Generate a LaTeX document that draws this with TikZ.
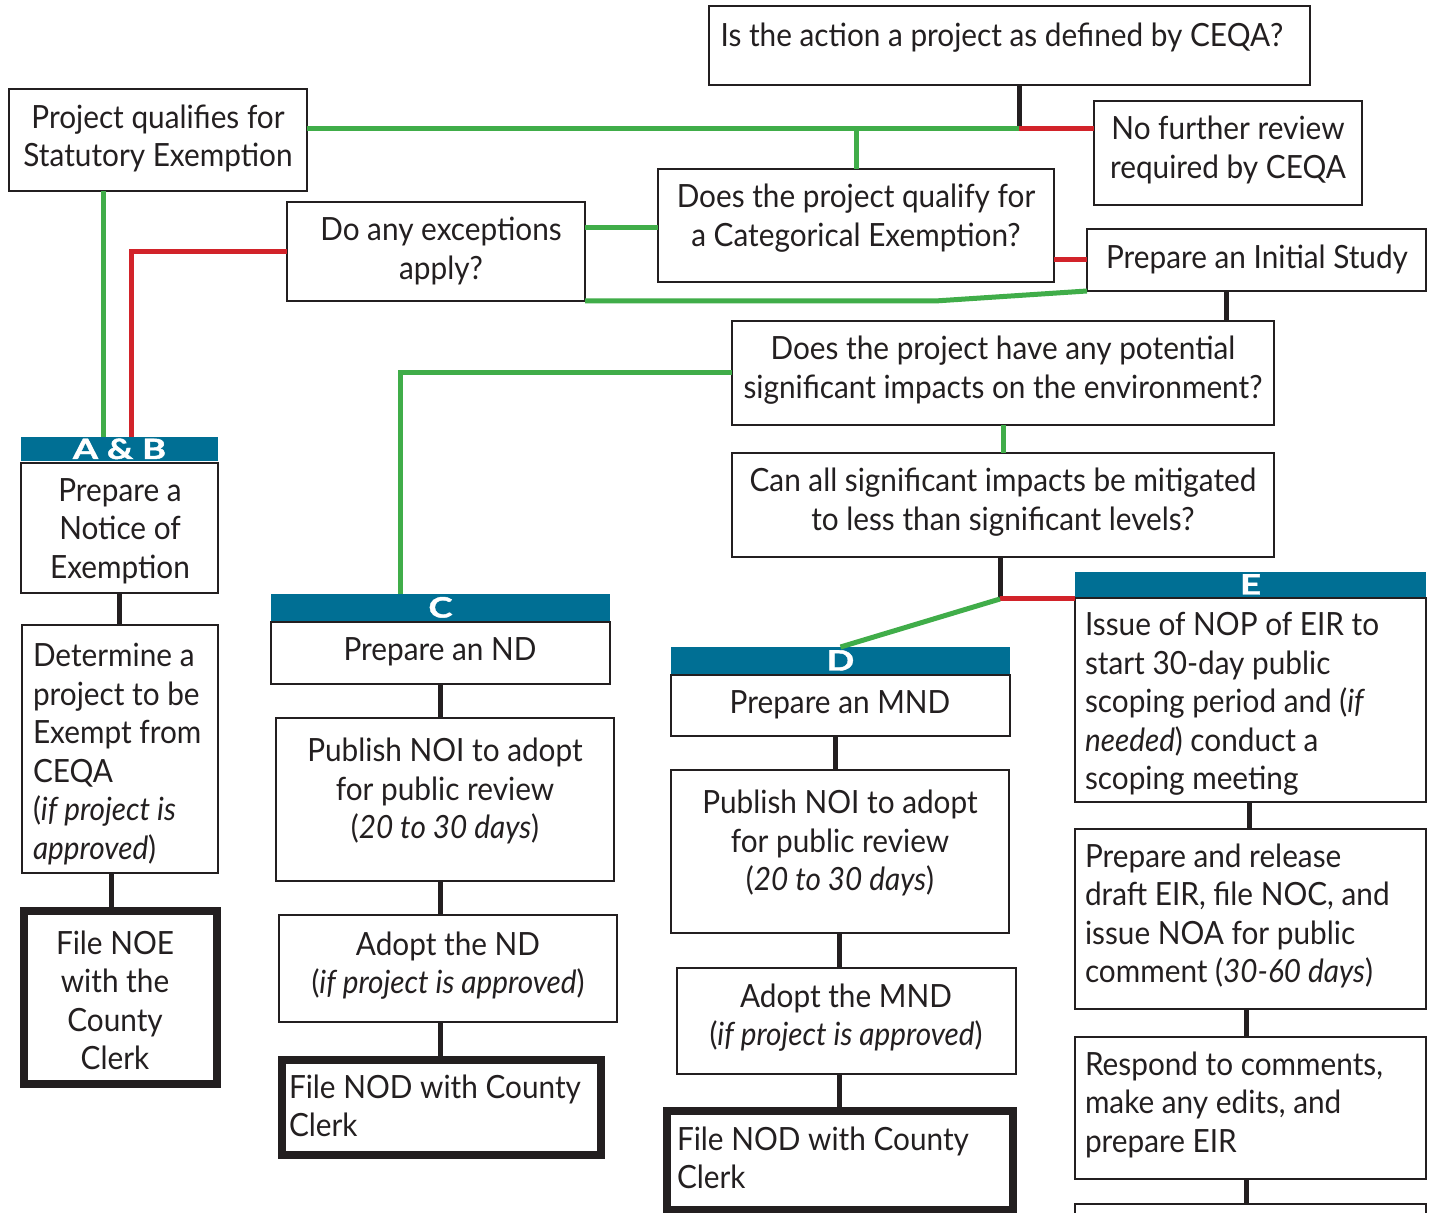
\documentclass[tikz,border=0pt]{standalone}
\usepackage{fontspec}
\setmainfont{Lato}[FakeStretch=0.93]
\newfontfamily\banfont{Lato}[FakeStretch=1.3,FakeBold=1.5]
\definecolor{grn}{RGB}{64,173,73}
\definecolor{rd}{RGB}{210,35,42}
\definecolor{teal2}{RGB}{0,111,148}
\definecolor{ink}{RGB}{35,31,32}
\tikzset{
  box/.style={draw=ink, line width=1.25pt, inner sep=0pt, outer sep=0pt},
  heavy/.style={line width=4.2pt},
  banner/.style={fill=teal2, draw=none, inner sep=0pt, outer sep=0pt, text=white,
    font=\banfont\fontsize{14}{14}\selectfont\bfseries, text height=10pt, text depth=0pt},
  txt/.style={inner sep=0pt, outer sep=0pt, align=center, text=ink, yshift=-1.5pt,
    font=\fontsize{16}{19.25}\selectfont},
  lt/.style={anchor=west, align=left},
  conn/.style={line width=2.5pt},
  gl/.style={conn, draw=grn},
  rl/.style={conn, draw=rd},
  bl/.style={conn, draw=ink},
}
% \bx[style]{name}{x1}{y1}{x2}{y2}{text}
\newcommand\bx[7][]{\node[box,#1,minimum width={(#5-#3)*0.5pt},minimum height={(#6-#4)*0.5pt}] (#2) at ({(#3+#5)/2},{(#4+#6)/2}) {#7};}
\newcommand\tx[5][]{\node[txt,#1] (#2) at (#3,#4) {#5};}
\begin{document}
\begin{tikzpicture}[x=0.5pt,y=-0.5pt]
\useasboundingbox (0,0) rectangle (1432,1213);
\fill[white] (0,0) rectangle (1432,1213);
\clip (0,0) rectangle (1432,1213);

% boxes
\bx{q1}{709}{6}{1310}{85}{}
\bx{stat}{9}{89}{307}{191}{}
\bx{nf}{1094}{101}{1362}{205}{}
\bx{cat}{658}{169}{1054}{282}{}
\bx{exc}{287}{202}{585}{301}{}
\bx{init}{1087}{229}{1426}{291}{}
\bx{imp}{732}{321}{1274}{425}{}
\bx{mit}{732}{453}{1274}{557}{}
\bx[banner]{bAB}{21}{437}{218}{461}{A \& B}
\bx{ab}{21}{463}{218}{593}{}
\bx{det}{22}{625}{218}{873}{}
\bx[heavy]{noe}{24}{911}{217}{1084}{}
\bx[banner]{bC}{271}{594}{610}{621}{C}
\bx{nd}{271}{622}{610}{684}{}
\bx{pubC}{276}{718}{614}{881}{}
\bx{adC}{279}{915}{617}{1022}{}
\bx[heavy]{nodC}{282}{1060}{601}{1155}{}
\bx[banner]{bD}{671}{647}{1010}{674}{D}
\bx{mnd}{671}{675}{1010}{736}{}
\bx{pubD}{671}{770}{1009}{933}{}
\bx{adD}{677}{968}{1016}{1074}{}
\bx[heavy]{nodD}{667}{1111}{1013}{1210}{}
\bx[banner]{bE}{1075}{572}{1426}{597}{E}
\bx{nop}{1075}{598}{1426}{802}{}
\bx{drf}{1075}{829}{1426}{1009}{}
\bx{rsp}{1075}{1037}{1426}{1179}{}
\bx{nxt}{1075}{1204}{1426}{1260}{}

% texts
\tx{tq1}{1002}{35}{Is the action a project as defined by CEQA?}
\tx{tstat}{158}{135.5}{Project qualifies for\\Statutory Exemption}
\tx{tnf}{1228}{147}{No further review\\required by CEQA}
\tx{tcat}{856}{215}{Does the project qualify for\\a Categorical Exemption?}
\tx{texc}{441}{248}{Do any exceptions\\apply?}
\tx{tinit}{1257}{256}{Prepare an Initial Study}
\tx{timp}{1003}{367}{Does the project have any potential\\significant impacts on the environment?}
\tx{tmit}{1003}{499}{Can all significant impacts be mitigated\\to less than significant levels?}
\tx{tab}{120}{528}{Prepare a\\Notice of\\Exemption}
\tx[lt]{tdet}{33}{751}{Determine a\\project to be\\Exempt from\\CEQA\\(\textit{if project is}\\\textit{approved})}
\tx{tnoe}{115}{997.5}{File NOE\\with the\\County\\Clerk}
\tx{tnd}{440}{649}{Prepare an ND}
\tx{tpubC}{445}{788}{Publish NOI to adopt\\for public review\\(\textit{20 to 30 days})}
\tx{tadC}{448}{962.5}{Adopt the ND\\(\textit{if project is approved})}
\tx[lt]{tnodC}{289}{1103}{File NOD with County\\Clerk}
\tx{tmnd}{840}{702}{Prepare an MND}
\tx{tpubD}{840}{840}{Publish NOI to adopt\\for public review\\(\textit{20 to 30 days})}
\tx{tadD}{846}{1014.5}{Adopt the MND\\(\textit{if project is approved})}
\tx[lt]{tnodD}{677}{1155}{File NOD with County\\Clerk}
\tx[lt]{tnop}{1085}{701}{Issue of NOP of EIR to\\start 30-day public\\scoping period and (\textit{if}\\\textit{needed}) conduct a\\scoping meeting}
\tx[lt]{tdrf}{1085}{913}{Prepare and release\\draft EIR, file NOC, and\\issue NOA for public\\comment (\textit{30-60 days})}
\tx[lt]{trsp}{1085}{1101.5}{Respond to comments,\\make any edits, and\\prepare EIR}

% junction coordinates
\coordinate (j1) at (1019,129);
\coordinate (gx) at (103,0);
\coordinate (rx) at (131,0);
\coordinate (gy) at (0,228);
\coordinate (gk) at (935,301);
\coordinate (bx) at (1226,0);
\coordinate (cx) at (400,0);
\coordinate (j2) at (1000,599);

% connectors
\draw[bl] (j1 |- q1.south) -- (j1);
\draw[rl] (j1) -- (j1 -| nf.west);
\draw[gl] (j1 -| stat.east) -- (j1);
\draw[gl] (cat.north |- j1) -- (cat.north);
\draw[gl] (gx |- stat.south) -- (gx |- bAB.north);
\draw[rl] (exc.west) -- (rx |- exc.west) -- (rx |- bAB.north);
\draw[gl] (gy -| cat.west) -- (gy -| exc.east);
\draw[rl] (init.west) -- (init.west -| cat.east);
\draw[gl] (exc.south east) -- (gk) -- (init.south west);
\draw[bl] (bx |- init.south) -- (bx |- imp.north);
\draw[gl] (imp.west) -- (cx |- imp.west) -- (cx |- bC.north);
\draw[gl] (imp.south) -- (mit.north);
\draw[bl] (j2 |- mit.south) -- (j2);
\draw[rl] (j2) -- (j2 -| nop.west);
\draw[gl] (j2) -- (bD.north);
% vertical links
\draw[bl] (119,0 |- ab.south) -- (119,0 |- det.north);
\draw[bl] (111,0 |- det.south) -- (111,0 |- noe.north);
\draw[bl] (440,0 |- nd.south) -- (440,0 |- pubC.north);
\draw[bl] (440,0 |- pubC.south) -- (440,0 |- adC.north);
\draw[bl] (440,0 |- adC.south) -- (440,0 |- nodC.north);
\draw[bl] (835,0 |- mnd.south) -- (835,0 |- pubD.north);
\draw[bl] (839,0 |- pubD.south) -- (839,0 |- adD.north);
\draw[bl] (839,0 |- adD.south) -- (839,0 |- nodD.north);
\draw[bl] (1249,0 |- nop.south) -- (1249,0 |- drf.north);
\draw[bl] (1246,0 |- drf.south) -- (1246,0 |- rsp.north);
\draw[bl] (1246,0 |- rsp.south) -- (1246,0 |- nxt.north);
\end{tikzpicture}
\end{document}
